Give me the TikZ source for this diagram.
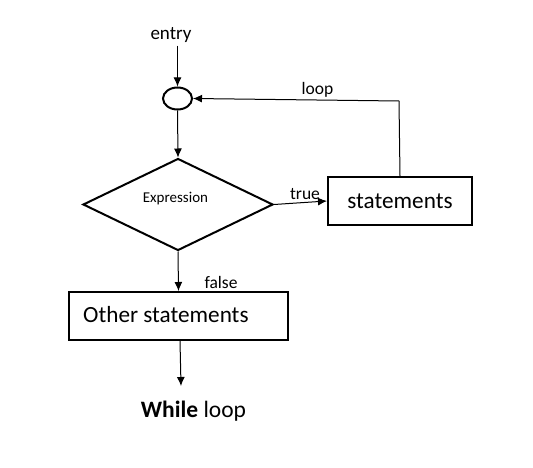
\documentclass[tikz,border=0pt]{standalone}
\usepackage{fontspec}
\setmainfont{Carlito}
\usetikzlibrary{shapes.geometric,arrows.meta}
\tikzset{
  box/.style={draw, line width=2pt, rectangle, inner sep=0pt},
  conn/.style={line width=1pt, -{Latex[length=9pt,width=8pt]}},
  plainline/.style={line width=1pt},
  lbl/.style={inner sep=0pt, font=\fontsize{17.5}{20}\selectfont},
}
\begin{document}
\begin{tikzpicture}[x=1pt,y=-1pt]
\useasboundingbox (0,0) rectangle (533,468);
\fill[white] (0,0) rectangle (533,468);
% nodes
\node[inner sep=0pt, font=\fontsize{19}{22}\selectfont] (entry) at (171,35) {entry};
\node[draw, ellipse, line width=2pt, minimum width=29pt, minimum height=22pt, inner sep=0pt] (circ) at (177.5,98.5) {};
\node[draw, diamond, line width=2pt, minimum width=190pt, minimum height=92pt, inner sep=0pt, aspect=2.07] (dia) at (178,204.5) {};
\node[inner sep=0pt, font=\fontsize{15}{18}\selectfont] (expr) at (175.5,198.5) {Expression};
\node[box, minimum width=144pt, minimum height=48pt, font=\fontsize{23.2}{26}\selectfont] (stm) at (400,201) {statements};
\node[box, minimum width=219pt, minimum height=48pt, anchor=west, font=\fontsize{23.2}{26}\selectfont] (oth) at (68,316) {};
\node[inner sep=0pt, anchor=west, font=\fontsize{23.2}{26}\selectfont] (othtext) at (83,315) {Other statements};
\node[inner sep=0pt, font=\fontsize{23.5}{27}\selectfont] (title) at (193.5,411) {\textbf{While} loop};
\coordinate (corner) at (399,101);
\coordinate (exit) at (181,386);
% connectors
\draw[conn] (entry.south -| circ.north) ++(0,3) -- (circ.north);
\draw[conn] (circ.south) -- (dia.north);
\draw[conn] (dia.east) -- (stm.west);
\node[lbl] (truel) at (305,194) {true};
\draw[plainline] (stm.north) -- (corner);
\draw[conn] (corner) -- (circ.east);
\node[lbl] (loopl) at (317.5,90) {loop};
\draw[conn] (dia.south) -- (oth.north);
\node[lbl] (falsel) at (221,282) {false};
\draw[conn] ([xshift=1.5pt]oth.south) -- (exit);
\end{tikzpicture}
\end{document}
